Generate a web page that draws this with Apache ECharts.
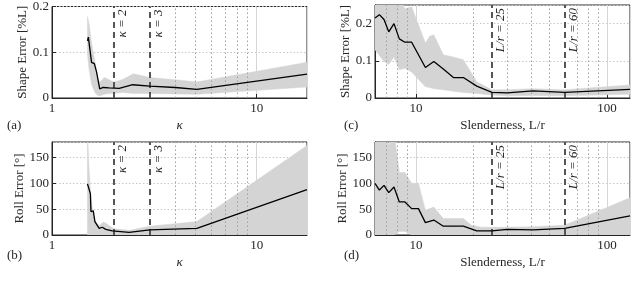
<!DOCTYPE html>
<html><head><meta charset="utf-8">
<script src="https://cdn.jsdelivr.net/npm/echarts@6/dist/echarts.min.js"></script>
<style>html,body{margin:0;padding:0;background:#fff}#c{width:640px;height:284px}</style>
</head><body><div id="c"></div>
<script>
// ---- Panel (a): shape error vs kappa ----
const aX  = [1.49, 1.505, 1.535, 1.56, 1.61, 1.65, 1.71, 1.78, 1.90, 2.13, 2.48, 3.0, 4.0, 5.1, 17.6];
const aY  = [0.125, 0.133, 0.103, 0.078, 0.075, 0.057, 0.020, 0.023, 0.022, 0.021, 0.029, 0.026, 0.023, 0.019, 0.052];
const aBX = [1.49, 1.52, 1.56, 1.62, 1.68, 1.72, 1.80, 1.90, 2.0, 2.2, 2.5, 3.0, 4.0, 5.1, 17.6];
const aLo = [0.095, 0.060, 0.030, 0.012, 0.005, 0.005, 0.008, 0.010, 0.010, 0.012, 0.010, 0.010, 0.009, 0.008, 0.024];
const aHi = [0.178, 0.160, 0.120, 0.080, 0.040, 0.035, 0.045, 0.040, 0.035, 0.040, 0.053, 0.045, 0.040, 0.035, 0.078];
// ---- Panel (b): roll error vs kappa ----
const bX  = [1.49, 1.54, 1.55, 1.59, 1.62, 1.70, 1.76, 1.83, 1.97, 2.38, 3.0, 5.1, 17.6];
const bY  = [99, 80, 45, 47, 26, 13, 15, 11, 8, 5, 10, 13, 88];
const bBX = [1.49, 1.52, 1.56, 1.62, 1.70, 1.78, 1.85, 2.0, 2.4, 3.0, 5.1, 17.6];
const bLo = [0, 0, 0, 0, 0, 0, 0, 0, 0, 0, 0, 0];
const bHi = [200, 120, 60, 28, 18, 25, 22, 12, 9, 17, 26, 173];
// ---- Panel (c): shape error vs slenderness ----
const cX  = [6.1, 6.43, 6.8, 7.2, 7.67, 8.18, 8.75, 9.49, 11.2, 12.4, 13.9, 15.7, 17.7, 20.8, 25, 30, 41, 60, 132];
const cY  = [0.215, 0.224, 0.211, 0.178, 0.200, 0.159, 0.150, 0.150, 0.082, 0.098, 0.078, 0.055, 0.055, 0.032, 0.015, 0.014, 0.019, 0.015, 0.023];
const cBX = [6.1, 6.8, 7.2, 7.67, 8.18, 8.75, 9.49, 11.2, 11.8, 12.4, 13.9, 15.7, 17.7, 20.8, 25, 30, 41, 60, 132];
const cLo = [0.130, 0.098, 0.090, 0.110, 0.076, 0.080, 0.070, 0.030, 0.028, 0.025, 0.022, 0.018, 0.015, 0.012, 0.008, 0.006, 0.007, 0.006, 0.010];
const cHi = [0.300, 0.300, 0.300, 0.300, 0.270, 0.240, 0.245, 0.148, 0.166, 0.170, 0.116, 0.110, 0.103, 0.044, 0.022, 0.022, 0.025, 0.022, 0.035];
// ---- Panel (d): roll error vs slenderness ----
const dX  = [6.1, 6.43, 6.8, 7.2, 7.67, 8.18, 8.75, 9.49, 10.3, 11.2, 12.4, 13.9, 15.7, 17.7, 20.8, 25, 30, 41, 60, 132];
const dY  = [100, 87, 96, 82, 93, 64, 64, 51, 51, 24, 29, 17, 17, 17, 8, 8, 11, 10, 13, 37];
const dBX = [6.1, 6.8, 7.2, 7.67, 8.18, 8.75, 9.49, 10.3, 11.2, 12.4, 13.9, 17.7, 19.5, 22, 30, 41, 60, 132];
const dLo = [0, 0, 0, 0, 7, 7, 0, 0, 0, 0, 0, 0, 0, 0, 0, 0, 0, 0];
const dHi = [200, 200, 173, 200, 121, 121, 100, 100, 48, 54, 32, 32, 19, 15, 15, 16, 19, 72];
// ---- reference lines & minor grid ----
const kappaMarks = [2, 3];
const kappaLabels = ['κ = 2', 'κ = 3'];
const slenderMarks = [25, 60];
const slenderLabels = ['L/r = 25', 'L/r = 60'];
const kappaMinor = [4, 5, 6, 7, 8, 9];
const slenderMinor = [7, 8, 9, 20, 30, 40, 50, 70, 80, 90];
const kappaTicks = [1, 10];
const slenderTicks = [10, 100];

const FONT = 'Liberation Serif';
const INK = '#262626';
const BAND = '#d4d4d4';
const chart = echarts.init(document.getElementById('c'));

const grids = [
  {left: 52, top: 5, width: 255, height: 93},
  {left: 52, top: 142, width: 255, height: 93},
  {left: 375, top: 5, width: 255, height: 93},
  {left: 375, top: 142, width: 255, height: 93}
].map(g => Object.assign(g, {show: true, borderColor: INK, borderWidth: 1, containLabel: false}));

function xAx(i, min, max, name, showMin) {
  return {
    type: 'log', logBase: 10, gridIndex: i, min: min, max: max,
    name: name, nameLocation: 'middle', nameGap: 21,
    nameTextStyle: {fontFamily: FONT, fontSize: 13, color: INK, fontStyle: name === 'κ' ? 'italic' : 'normal'},
    axisLine: {show: true, lineStyle: {color: INK, width: 1}},
    axisTick: {show: true, inside: true, length: 4, lineStyle: {color: INK}},
    axisLabel: {fontFamily: FONT, fontSize: 13, color: INK, margin: 4, showMinLabel: showMin, showMaxLabel: false},
    splitLine: {show: true, lineStyle: {color: '#d6d6d6', width: 1}}
  };
}
function yAx(i, min, max, interval, name, showMax) {
  return {
    type: 'value', gridIndex: i, min: min, max: max, interval: interval,
    name: name, nameLocation: 'middle', nameGap: 20,
    nameTextStyle: {fontFamily: FONT, fontSize: 13, color: INK},
    axisLine: {show: true, lineStyle: {color: INK, width: 1}},
    axisTick: {show: true, inside: true, length: 4, lineStyle: {color: INK}},
    axisLabel: {fontFamily: FONT, fontSize: 13, color: INK, margin: 3, showMaxLabel: showMax},
    splitLine: {show: true, lineStyle: {color: '#c8c8c8', width: 1, type: [1.5, 2]}}
  };
}

function zip(xs, ys) { return xs.map((x, k) => [x, ys[k]]); }

function panelSeries(i, X, Y, BX, Lo, Hi, marks, minor) {
  return [
    { // carrier for minor (dotted) vertical grid lines
      type: 'line', xAxisIndex: i, yAxisIndex: i, symbol: 'none', silent: true, z: 1,
      data: zip(X, Y), lineStyle: {width: 0, opacity: 0},
      markLine: {
        silent: true, symbol: 'none', animation: false,
        lineStyle: {type: [1.5, 2.5], color: '#a0a0a0', width: 1},
        label: {show: false},
        data: minor.map(v => ({xAxis: v}))
      }
    },
    { // min/max band as one polygon through the axis scales
      type: 'custom', xAxisIndex: i, yAxisIndex: i, clip: true, silent: true, z: 3,
      data: BX.map((x, k) => [x, Lo[k], Hi[k]]),
      encode: {x: 0, y: [1, 2]},
      renderItem: function (params, api) {
        if (params.dataIndex !== 0) return null;
        const pts = [];
        for (let k = 0; k < BX.length; k++) pts.push(api.coord([BX[k], Hi[k]]));
        for (let k = BX.length - 1; k >= 0; k--) pts.push(api.coord([BX[k], Lo[k]]));
        return {type: 'polygon', shape: {points: pts}, style: {fill: BAND, stroke: BAND, lineWidth: 0.5}};
      }
    },
    { // mean curve + dashed reference lines
      type: 'line', xAxisIndex: i, yAxisIndex: i, symbol: 'none', z: 5,
      data: zip(X, Y), lineStyle: {color: '#000', width: 1.3},
      markLine: {
        silent: true, symbol: 'none', animation: false,
        lineStyle: {type: [6, 4], color: '#555', width: 2},
        label: {show: false},
        data: marks.map(v => ({xAxis: v}))
      }
    }
  ];
}

const panelLabel = (txt, x, y) => ({type: 'text', left: x, top: y,
  style: {text: txt, font: '13px "' + FONT + '"', fill: INK}});

chart.setOption({
  animation: false,
  grid: grids,
  xAxis: [
    xAx(0, kappaTicks[0], 17.6, 'κ', true),
    xAx(1, kappaTicks[0], 17.6, 'κ', true),
    xAx(2, 6.1, 132, 'Slenderness, L/r', false),
    xAx(3, 6.1, 132, 'Slenderness, L/r', false)
  ],
  yAxis: [
    yAx(0, 0, 0.2, 0.1, 'Shape Error [%L]', true),
    yAx(1, 0, 180, 50, 'Roll Error [°]', false),
    yAx(2, 0, 0.25, 0.1, 'Shape Error [%L]', false),
    yAx(3, 0, 180, 50, 'Roll Error [°]', false)
  ],
  series: [].concat(
    panelSeries(0, aX, aY, aBX, aLo, aHi, kappaMarks, kappaMinor),
    panelSeries(1, bX, bY, bBX, bLo, bHi, kappaMarks, kappaMinor),
    panelSeries(2, cX, cY, cBX, cLo, cHi, slenderMarks, slenderMinor),
    panelSeries(3, dX, dY, dBX, dLo, dHi, slenderMarks, slenderMinor)
  )
});

// rotated labels beside the dashed reference lines, placed through the axis scales
const gfx = [
  panelLabel('(a)', 7, 119),
  panelLabel('(b)', 7, 249),
  panelLabel('(c)', 344, 119),
  panelLabel('(d)', 344, 249)
];
[[0, kappaMarks, kappaLabels], [1, kappaMarks, kappaLabels],
 [2, slenderMarks, slenderLabels], [3, slenderMarks, slenderLabels]].forEach(([i, marks, labels]) => {
  const yTop = chart.convertToPixel({yAxisIndex: i}, i % 2 === 0 ? (i === 0 ? 0.2 : 0.25) : 180);
  marks.forEach((v, k) => {
    const px = chart.convertToPixel({xAxisIndex: i}, v);
    gfx.push({type: 'text', x: px + 2, y: yTop + 3, rotation: Math.PI / 2, z: 10,
      style: {text: labels[k], font: 'italic 13px "' + FONT + '"', fill: INK,
        textAlign: 'right', textVerticalAlign: 'top'}});
  });
});
chart.setOption({graphic: gfx});
</script></body></html>
